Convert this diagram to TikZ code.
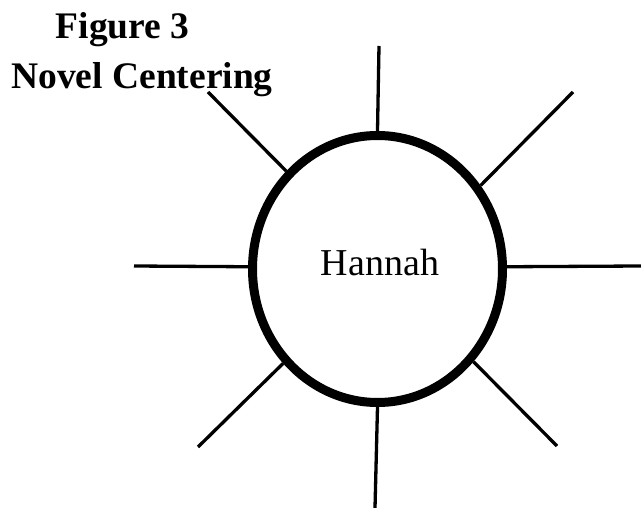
\documentclass[tikz,border=0pt]{standalone}
\usepackage{fontspec}
\setmainfont{Liberation Serif}
\usetikzlibrary{shapes.geometric}
\begin{document}
\begin{tikzpicture}[x=1pt,y=-1pt,
  ray/.style={line width=3.3pt},
  hub/.style={ellipse,draw,line width=9pt,inner sep=0pt,minimum width=250pt,minimum height=267pt},
  titletext/.style={font=\fontsize{37.5}{42}\selectfont\bfseries,anchor=base,inner sep=0pt}]
\useasboundingbox (0,0) rectangle (641,508);
\node[hub] (e) at (377.5,269) {};
\node[font=\fontsize{38}{42}\selectfont,anchor=base,inner sep=0pt] (name) at (380,276) {Hannah};
\node[titletext] (t1) at (122.5,39) {Figure 3};
\node[titletext] (t2) at (142,89) {Novel Centering};
\coordinate (pT) at (379,46);
\coordinate (pTR) at (573,92);
\coordinate (pR) at (641,266);
\coordinate (pBR) at (557,446);
\coordinate (pB) at (375,508);
\coordinate (pBL) at (198,447);
\coordinate (pL) at (134,266);
\coordinate (pTL) at (208,92);
\draw[ray] (pT) -- (e.90);
\draw[ray] (pTR) -- (e.39);
\draw[ray] (pR) -- (e.1);
\draw[ray] (pBR) -- (e.-44);
\draw[ray] (pB) -- (e.270);
\draw[ray] (pBL) -- (e.225);
\draw[ray] (pL) -- (e.179);
\draw[ray] (pTL) -- (e.133);
\end{tikzpicture}
\end{document}
